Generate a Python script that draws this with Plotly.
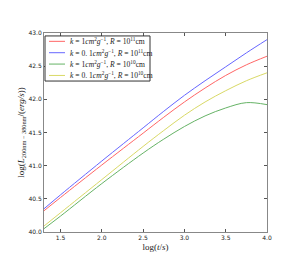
import plotly.graph_objects as go

log_t = [1.3, 1.5, 2.0, 2.5, 2.75, 3.0, 3.25, 3.5, 3.75, 4.0]
red_k1_R11 = [40.32, 40.52, 41.01, 41.49, 41.73, 41.96, 42.17, 42.36, 42.52, 42.65]
blue_k01_R11 = [40.35, 40.56, 41.07, 41.57, 41.82, 42.06, 42.28, 42.49, 42.70, 42.90]
green_k1_R10 = [40.05, 40.24, 40.73, 41.19, 41.40, 41.59, 41.75, 41.87, 41.95, 41.92]
yellow_k01_R10 = [40.09, 40.29, 40.79, 41.29, 41.53, 41.76, 41.96, 42.13, 42.28, 42.40]

labels = [
    "<i>k</i> = 1<i>cm</i><sup>2</sup><i>g</i><sup>−1</sup>, <i>R</i> = 10<sup>11</sup>cm",
    "<i>k</i> = 0. 1<i>cm</i><sup>2</sup><i>g</i><sup>−1</sup>, <i>R</i> = 10<sup>11</sup>cm",
    "<i>k</i> = 1<i>cm</i><sup>2</sup><i>g</i><sup>−1</sup>, <i>R</i> = 10<sup>10</sup>cm",
    "<i>k</i> = 0. 1<i>cm</i><sup>2</sup><i>g</i><sup>−1</sup>, <i>R</i> = 10<sup>10</sup>cm",
]
series = [red_k1_R11, blue_k01_R11, green_k1_R10, yellow_k01_R10]
colors = ["#ff6666", "#6666ff", "#66b366", "#d9d966"]

W, H = 288, 255
ML, MR, MT, MB = 36, 29, 25, 27
PW, PH = W - ML - MR, H - MT - MB

def px(x):
    return (x - ML) / PW

def py(y):
    return (H - MB - y) / PH

fig = go.Figure()
for y, c, name in zip(series, colors, labels):
    fig.add_trace(go.Scatter(x=log_t, y=y, mode="lines", name=name, showlegend=False,
                             line=dict(color=c, width=1, shape="spline", smoothing=1)))

# manual legend box (matplotlib-like compact legend)
shapes = [dict(type="rect", xref="paper", yref="paper",
               x0=px(37), x1=px(142), y0=py(74), y1=py(28),
               line=dict(color="#333333", width=1), fillcolor="white", layer="above")]
annotations = []
for i, (c, name) in enumerate(zip(colors, labels)):
    yy = 33.5 + i * 11.6
    shapes.append(dict(type="line", xref="paper", yref="paper",
                       x0=px(41), x1=px(57), y0=py(yy), y1=py(yy),
                       line=dict(color=c, width=1), layer="above"))
    annotations.append(dict(xref="paper", yref="paper", x=px(60), y=py(yy),
                            xanchor="left", yanchor="middle", showarrow=False,
                            text=name, font=dict(family="Liberation Serif", size=7.6, color="#222")))

axis_common = dict(showgrid=False, zeroline=False, showline=True, mirror="ticks",
                   linecolor="#888888", linewidth=1, ticks="inside", ticklen=3,
                   tickcolor="#555555", tickfont=dict(family="DejaVu Sans", size=6, color="#222"))

fig.update_layout(
    width=W, height=H,
    margin=dict(l=ML, r=MR, t=MT, b=MB),
    paper_bgcolor="white", plot_bgcolor="white",
    showlegend=False,
    shapes=shapes, annotations=annotations,
    xaxis=dict(range=[1.3, 4.0], tickvals=[1.5, 2.0, 2.5, 3.0, 3.5, 4.0],
               ticktext=["1.5", "2.0", "2.5", "3.0", "3.5", "4.0"],
               title=dict(text="log(<i>t</i>/<i>s</i>)", standoff=3,
                          font=dict(family="Liberation Serif", size=9, color="#222")),
               **axis_common),
    yaxis=dict(range=[40.0, 43.0], tickvals=[40.0, 40.5, 41.0, 41.5, 42.0, 42.5, 43.0],
               ticktext=["40.0", "40.5", "41.0", "41.5", "42.0", "42.5", "43.0"],
               title=dict(text="log(<i>L</i><sub>200nm − 380nm</sub>/(<i>erg/s</i>))", standoff=2,
                          font=dict(family="Liberation Serif", size=9, color="#222")),
               **axis_common),
)

fig.write_html("out.html")
